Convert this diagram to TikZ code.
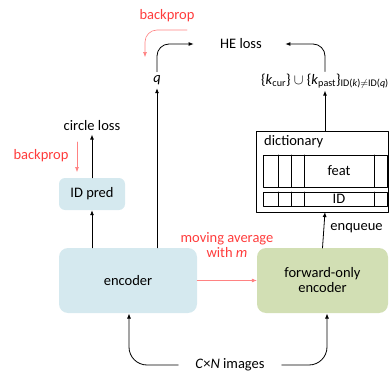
\documentclass[tikz,border=0pt]{standalone}
\usepackage{fontspec}
\setmainfont{Carlito}
\usetikzlibrary{arrows.meta}
\definecolor{encblue}{RGB}{213,233,239}
\definecolor{encgreen}{RGB}{210,223,180}
\definecolor{bpred}{RGB}{255,60,60}
\definecolor{bparrow}{RGB}{255,130,130}

\begin{document}
\begin{tikzpicture}[line cap=round,line join=round,>={Latex[length=5pt,width=4pt]},x=1pt,y=-1pt,
  every node/.style={font=\fontsize{14.5}{17}\selectfont},
  encbox/.style={rounded corners=9pt,fill=encblue,align=center},
  fwdbox/.style={rounded corners=9pt,fill=encgreen,align=center},
  conn/.style={->,line width=0.8pt},
  bpconn/.style={->,draw=bparrow,line width=0.6pt}]
\useasboundingbox (0,0) rectangle (389,372);
% boxes
\node[encbox,minimum width=138pt,minimum height=65pt] (enc) at (128,280.5) {encoder};
\node[fwdbox,minimum width=131pt,minimum height=65pt] (fwd) at (322.5,280.5) {forward-only\\[-2pt]encoder};
\node[encbox,rounded corners=6pt,minimum width=66pt,minimum height=32pt] (idp) at (92,194) {ID pred};
\node (circ) at (92,126) {circle loss};
\node (q) at (157,80) {\textit{q}};
\node (he) at (241,44) {HE loss};
\node[inner sep=2pt] (keys) at (325,81) {\{\textit{k}\textsubscript{cur}\} $\cup$ \{\textit{k}\textsubscript{past}\}\textsubscript{ID(\textit{k})$\neq$ID(\textit{q})}};
\node[inner xsep=17pt] (imgs) at (230,365) {\textit{C}×\textit{N} images};
% dictionary
\draw[line width=0.8pt] (256,131) rectangle (388,212);
\node[anchor=north west,inner sep=0pt] (dictlbl) at (264,135) {dictionary};
\coordinate (dict) at (325,131);
\coordinate (dictb) at (325,212);
\draw[line width=0.8pt] (263,155) rectangle (387,187);
\draw[line width=0.8pt] (263,192) rectangle (387,206);
\foreach \xx in {278,291,304,374}
{
\draw[line width=0.8pt] (\xx,155)-- (\xx,187);
\draw[line width=0.8pt] (\xx,192)-- (\xx,206);
}
\node (feat) at (339,171) {feat};
\node (id) at (339,199) {ID};
% connectors
\draw[conn] (enc.north -| idp) -- (idp.south);
\draw[conn] (idp.north) -- (circ.south);
\draw[conn] (enc.north -| q) -- (q.south);
\draw[conn,rounded corners=12pt] (q.north) |- ([xshift=-23pt]he.west);
\draw[conn,rounded corners=12pt] (keys.north) |- ([xshift=20pt]he.east);
\draw[conn] (dict) -- (keys.south);
\draw[conn] (fwd.north |- 0,248) -- node[right=3pt,yshift=2pt] (enq) {enqueue} (dictb);
\draw[conn,rounded corners=18pt] (imgs.west) -| (129,313.5);
\draw[conn,rounded corners=18pt] (imgs.east) -| (327,313.5);
% moving average
\draw[->,draw=bparrow,line width=0.6pt] (enc.east) -- node[above=19pt,text=bpred,align=center] (mavg) {moving average\\[-2pt]with \textit{m}} (fwd.west);
% backprop
\node[text=bpred] (bp1) at (167,16) {backprop};
\draw[bpconn,rounded corners=12pt] (187,30) -| (145,57);
\node[text=bpred] (bp2) at (41,156) {backprop};
\draw[bpconn] (77,142) -- (77,172);
\end{tikzpicture}
\end{document}
